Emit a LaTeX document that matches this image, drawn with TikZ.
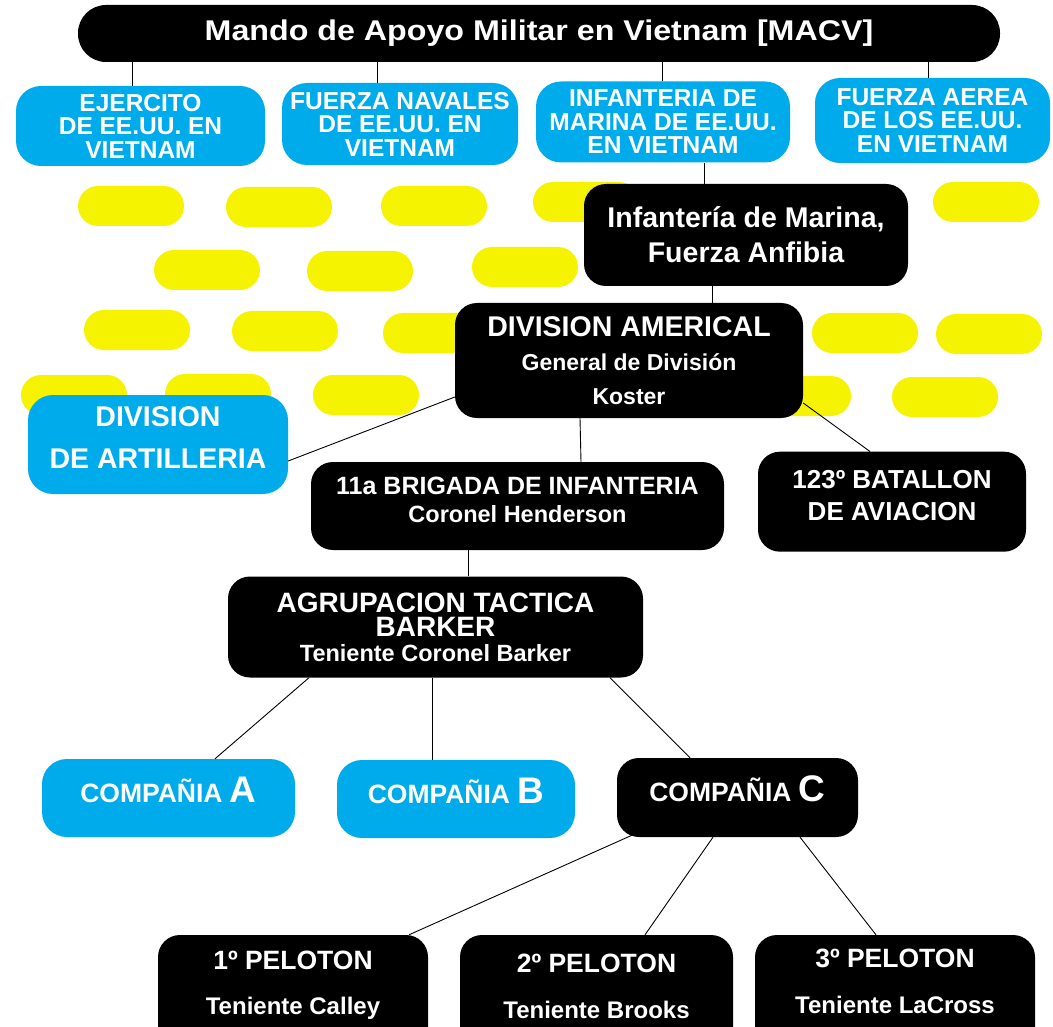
\documentclass[tikz,border=0pt]{standalone}
\usepackage{fontspec}
\setmainfont{Liberation Sans}
\newfontfamily\widefont{Liberation Sans}[FakeStretch=1.13]
\newcommand\fs[2]{\fontsize{#1}{#2}\selectfont}
\definecolor{macvblue}{RGB}{0,171,235}
\definecolor{macvyellow}{RGB}{246,243,0}
\begin{document}
\begin{tikzpicture}[x=1pt,y=-1pt,
  box/.style={rounded corners=22pt, text=white, align=center, inner sep=0pt},
  blk/.style={box, fill=black},
  blu/.style={box, fill=macvblue, rounded corners=25pt},
  txt/.style 2 args={font=\bfseries\fs{#1}{#2}},
  pill/.style={fill=macvyellow, rounded corners=20pt},
  con/.style={line width=0.9pt}]
\useasboundingbox (0,0) rectangle (1053,1027);
\foreach \px/\py in {78/186,226/187,381/186,533/182,933/182,
  154/250,307/251,472/247,
  84/310,232/311,383/313,812/313,936/314,
  21/375,165/374,313/375,745/376,892/377}
  \fill[pill] (\px,\py) rectangle ++(106,40);
\node[blk, rounded corners=28pt, font=\widefont\bfseries\fs{28.5}{30}, minimum width=922pt, minimum height=57pt] (macv) at (539,33.5){Mando de Apoyo Militar en Vietnam [MACV]};
\node[blu, txt={24.5}{23.5}, minimum width=249pt, minimum height=80pt] (ejercito) at (140.5,126){EJERCITO\\DE EE.UU. EN\\VIETNAM};
\node[blu, txt={24.5}{23.5}, minimum width=236pt, minimum height=82pt] (navales) at (400,124){FUERZA NAVALES\\DE EE.UU. EN\\VIETNAM};
\node[blu, txt={24.5}{23.5}, minimum width=254pt, minimum height=81pt] (marina) at (663,122){INFANTERIA DE\\MARINA DE EE.UU.\\EN VIETNAM};
\node[blu, txt={24.5}{23.5}, minimum width=235pt, minimum height=85pt] (aerea) at (932.5,120.5){FUERZA AEREA\\DE LOS EE.UU.\\EN VIETNAM};
\node[blk, txt={28.5}{35}, minimum width=324pt, minimum height=102pt] (fmf) at (746,235){Infantería de Marina,\\Fuerza Anfibia};
\node[blk, txt={23}{34}, minimum width=348pt, minimum height=115pt] (americal) at (629,360.5){{\fs{28.5}{34}DIVISION AMERICAL}\\General de División\\Koster};
\node[blu, txt={28.5}{42}, minimum width=260pt, minimum height=99pt] (artilleria) at (158,444.5){DIVISION\\DE ARTILLERIA\rule[-13pt]{0pt}{0pt}};
\node[blk, txt={23.5}{27.5}, minimum width=413pt, minimum height=88pt] (brigada) at (517.5,506){{\fs{25}{27}11a BRIGADA DE INFANTERIA}\\Coronel Henderson\rule[-12pt]{0pt}{0pt}};
\node[blk, txt={26}{32}, minimum width=268pt, minimum height=100pt] (batallon) at (892,501.7){123º BATALLON\\DE AVIACION\rule[-12pt]{0pt}{0pt}};
\node[blk, txt={23.5}{24.5}, minimum width=415pt, minimum height=101pt] (barker) at (435.5,627){{\fs{28}{28}AGRUPACION TACTICA}\\{\fs{28}{28}BARKER}\\Teniente Coronel Barker};
\node[blu, txt={26.5}{30}, minimum width=253pt, minimum height=78pt] (compA) at (168.5,798){COMPAÑIA {\fs{37}{37}A}\rule[-17pt]{0pt}{0pt}};
\node[blu, txt={26.5}{30}, minimum width=238pt, minimum height=78pt] (compB) at (456,799){COMPAÑIA {\fs{37}{37}B}\rule[-17pt]{0pt}{0pt}};
\node[blk, txt={26.5}{30}, minimum width=241pt, minimum height=79pt] (compC) at (737.5,797.5){COMPAÑIA {\fs{37}{37}C}\rule[-17pt]{0pt}{0pt}};
\node[blk, txt={24}{45}, minimum width=270pt, minimum height=120pt] (pel1) at (293,995){{\fs{26.5}{30}1º PELOTON}\\Teniente Calley\rule[-25pt]{0pt}{0pt}};
\node[blk, txt={24}{46}, minimum width=273pt, minimum height=120pt] (pel2) at (596.5,995){{\fs{26.5}{30}2º PELOTON}\\Teniente Brooks\rule[-18pt]{0pt}{0pt}};
\node[blk, txt={24}{46}, minimum width=280pt, minimum height=120pt] (pel3) at (895,995){{\fs{26.5}{30}3º PELOTON}\\Teniente LaCross\rule[-28pt]{0pt}{0pt}};
\draw[con] ([xshift=-8.5pt]ejercito.north) -- ([xshift=-8.5pt]ejercito.north |- macv.south);
\draw[con] ([xshift=-23pt]navales.north) -- ([xshift=-23pt]navales.north |- macv.south);
\draw[con] ([xshift=-1pt]marina.north) -- ([xshift=-1pt]marina.north |- macv.south);
\draw[con] ([xshift=-4.5pt]aerea.north) -- ([xshift=-4.5pt]aerea.north |- macv.south);
\draw[con] ([xshift=-42pt]fmf.north) -- ([xshift=-42pt]fmf.north |- marina.south);
\draw[con] ([xshift=83pt]americal.north) -- ([xshift=83pt]americal.north |- fmf.south);
\draw[con] ([yshift=-36.5pt]americal.west) -- ([yshift=-16.5pt]artilleria.east);
\draw[con] ([xshift=-49pt]americal.south) -- ([xshift=63.5pt]brigada.north);
\draw[con] ([yshift=-42.5pt]americal.east) -- ([xshift=-22pt]batallon.north);
\draw[con] ([xshift=-49.5pt]brigada.south) -- ([xshift=32.5pt]barker.north);
\draw[con] ([xshift=-126.5pt]barker.south) -- ([xshift=46.5pt]compA.north);
\draw[con] ([xshift=-3.5pt]barker.south) -- ([xshift=-24pt]compB.north);
\draw[con] ([xshift=174.5pt]barker.south) -- ([xshift=-47.5pt]compC.north);
\draw[con] ([xshift=-105.5pt,yshift=2pt]compC.south) -- ([xshift=116pt]pel1.north);
\draw[con] ([xshift=-24.5pt]compC.south) -- ([xshift=48.5pt]pel2.north);
\draw[con] ([xshift=62.5pt]compC.south) -- ([xshift=-19pt]pel3.north);
\end{tikzpicture}
\end{document}
